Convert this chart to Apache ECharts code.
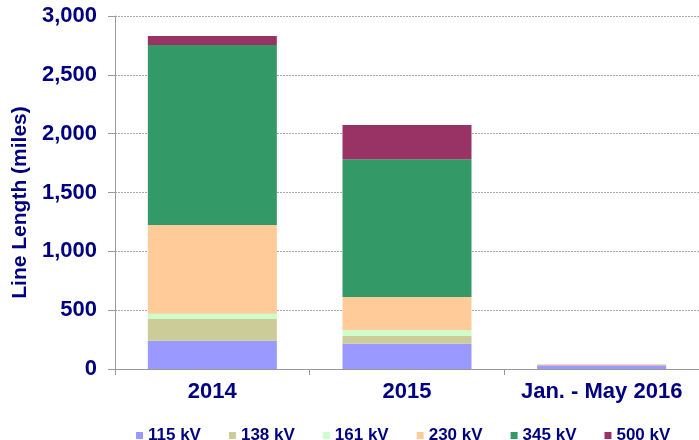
<!DOCTYPE html>
<html>
<head>
<meta charset="utf-8">
<script src="https://cdn.jsdelivr.net/npm/echarts@6/dist/echarts.min.js"></script>
<style>
    html, body { margin: 0; padding: 0; background: #fff; }
    #chart { width: 699px; height: 440px; }
</style>
</head>
<body>
<div id="chart"></div>
<script>
var categories = ['2014', '2015', 'Jan. - May 2016'];
var voltages = ['115 kV', '138 kV', '161 kV', '230 kV', '345 kV', '500 kV'];
var kv115 = [240, 215, 32];
var kv138 = [185, 68, 0];
var kv161 = [45, 46, 0];
var kv230 = [753, 283, 8];
var kv345 = [1530, 1170, 0];
var kv500 = [76, 291, 0];
var colors = ['#9999ff', '#cccc99', '#ccffcc', '#ffcc99', '#339966', '#993366'];

var navy = '#000080';
var font = '"Liberation Sans", Arial, sans-serif';

var seriesData = [kv115, kv138, kv161, kv230, kv345, kv500];
var series = [];
for (var i = 0; i < voltages.length; i++) {
    series.push({
        name: voltages[i],
        type: 'bar',
        stack: 'total',
        barWidth: 129,
        data: seriesData[i],
        itemStyle: { color: colors[i] }
    });
}

var chart = echarts.init(document.getElementById('chart'));
var option = {
    animation: false,
    grid: { left: 115, right: 0, top: 16, bottom: 71 },
    legend: {
        data: voltages,
        left: 131,
        top: 422,
        icon: 'rect',
        itemWidth: 7,
        itemHeight: 7,
        itemGap: 28,
        textStyle: { color: navy, fontFamily: font, fontWeight: 'bold', fontSize: 17 }
    },
    xAxis: {
        type: 'category',
        data: categories,
        axisLine: { lineStyle: { color: '#999', width: 1 } },
        axisTick: { show: true, length: 6, lineStyle: { color: '#999' } },
        axisLabel: { interval: 0, color: navy, fontFamily: font, fontWeight: 'bold', fontSize: 22, margin: 12 }
    },
    yAxis: {
        type: 'value',
        min: 0,
        max: 3000,
        interval: 500,
        name: 'Line Length (miles)',
        nameLocation: 'middle',
        nameRotate: 90,
        nameGap: 84,
        nameTextStyle: { color: navy, fontFamily: font, fontWeight: 'bold', fontSize: 21, padding: [0, 20, 0, 0] },
        axisLine: { show: true, lineStyle: { color: '#999', width: 1 } },
        axisTick: { show: true, inside: false, length: 7, lineStyle: { color: '#999' } },
        axisLabel: {
            color: navy, fontFamily: font, fontWeight: 'bold', fontSize: 22, margin: 18,
            formatter: function (v) { return v.toLocaleString('en-US'); }
        },
        splitLine: { show: true, lineStyle: { color: '#aaa', type: [2, 1] } }
    },
    series: series
};
chart.setOption(option);
</script>
</body>
</html>
